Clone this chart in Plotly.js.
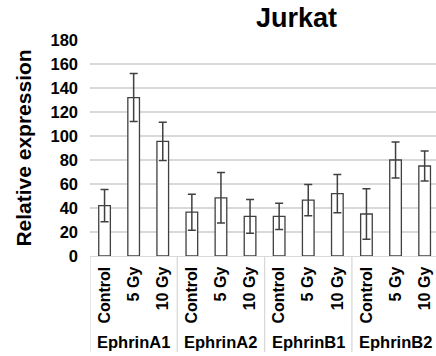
<!DOCTYPE html>
<html>
<head>
<meta charset="utf-8">
<script src="https://cdn.plot.ly/plotly-3.0.1.min.js"></script>
<style>html,body{margin:0;padding:0;background:#fff;}#chart{width:436px;height:356px;}</style>
</head>
<body>
<div id="chart"></div>
<script>
const genes = ["EphrinA1", "EphrinA2", "EphrinB1", "EphrinB2"];
const doses = ["Control", "5 Gy", "10 Gy"];
const meanValues = [42, 132, 95.5, 36.5, 48.5, 33, 33, 46.5, 52, 35, 80, 75];
const errorValues = [13.5, 20, 16, 15, 21, 14, 11, 13, 16, 21, 15, 12.5];

const categoryKeys = [];
const doseLabels = [];
genes.forEach(g => doses.forEach(d => { categoryKeys.push(g + " | " + d); doseLabels.push(d); }));

const FONT = "Arial, 'Liberation Sans', sans-serif";
const PLOT_H = 216;
const toPaperY = px => -px / PLOT_H;   // px below the x axis

const trace = {
  type: "bar",
  x: categoryKeys,
  y: meanValues,
  width: 0.4,
  marker: { color: "#ffffff", line: { color: "#404040", width: 1.3 } },
  error_y: { type: "data", array: errorValues, visible: true, color: "#404040", thickness: 1.5, width: 4 },
  hoverinfo: "skip"
};

const annotations = genes.map((g, i) => ({
  x: categoryKeys[i * doses.length + 1], xref: "x",
  y: toPaperY(86), yref: "paper",
  text: "<b>" + g + "</b>", showarrow: false,
  xanchor: "center", yanchor: "middle",
  font: { family: FONT, size: 16.5, color: "#000" }
}));

const shapes = genes.map((g, i) => ({
  type: "line", xref: "x", yref: "paper",
  x0: i * doses.length - 0.5, x1: i * doses.length - 0.5,
  y0: 0, y1: toPaperY(96),
  line: { color: "#d9d9d9", width: 1.3 }
}));

const layout = {
  width: 436, height: 356,
  margin: { l: 90, r: 0, t: 40, b: 100 },
  paper_bgcolor: "#ffffff", plot_bgcolor: "#ffffff",
  showlegend: false,
  font: { family: FONT, color: "#000000" },
  title: { text: "<b>Jurkat</b>", font: { family: FONT, size: 27, color: "#000" }, x: 0.68, xanchor: "center", y: 0.95, yanchor: "middle" },
  xaxis: {
    type: "category",
    range: [-0.5, 11.39],
    tickmode: "array", tickvals: categoryKeys, ticktext: doseLabels,
    tickangle: -90,
    tickfont: { family: FONT, size: 16, color: "#000", weight: "bold" },
    ticklabelstandoff: 3,
    showline: true, linecolor: "#d9d9d9", linewidth: 1.3,
    ticks: "", showgrid: false, zeroline: false
  },
  yaxis: {
    range: [0, 180], dtick: 20,
    tickfont: { family: FONT, size: 16.5, color: "#000", weight: "bold" },
    gridcolor: "#d9d9d9", gridwidth: 1.3,
    zeroline: false, showline: false, ticks: "",
    ticklabelstandoff: 11,
    title: { text: "<b>Relative expression</b>", font: { family: FONT, size: 21, color: "#000" }, standoff: 13 }
  },
  annotations: annotations,
  shapes: shapes
};

Plotly.newPlot("chart", [trace], layout, { staticPlot: true, displayModeBar: false });
</script>
</body>
</html>
